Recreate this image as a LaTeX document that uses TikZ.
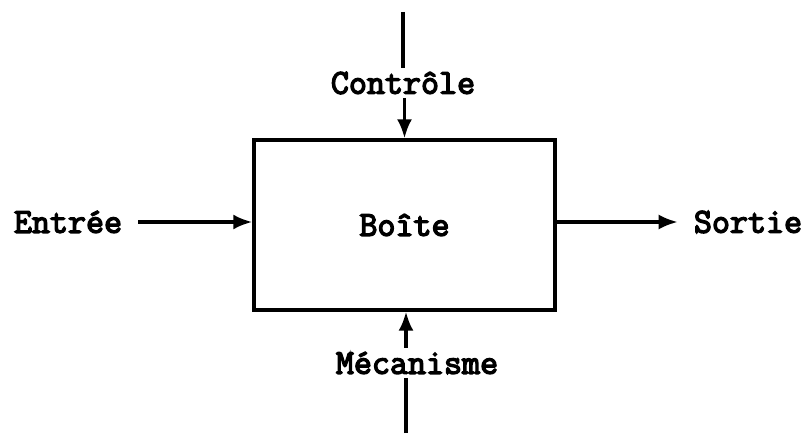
\documentclass[tikz,border=0pt]{standalone}
\usepackage{fontspec}
\newfontfamily\boxfont[FakeBold=4]{Latin Modern Mono}
\usetikzlibrary{arrows.meta}
\begin{document}
\begin{tikzpicture}[x=1pt,y=1pt,
  lbl/.style={font=\fontsize{35}{35}\selectfont\boxfont, inner sep=0pt},
  flow/.style={line width=3.2pt, -{Latex[length=19pt,width=15pt]}},
  plain/.style={line width=3.2pt}]
  \useasboundingbox (0,0) rectangle (811,437);
  % activity box
  \node[draw, line width=3.4pt, minimum width=301pt, minimum height=170pt,
        inner sep=0pt, lbl] (box) at (404.5,212) {Boîte};
  % labels
  \node[lbl, inner ysep=4pt] (ctl) at (403,354) {Contrôle};
  \node[lbl, inner ysep=4pt] (mec) at (417,74) {Mécanisme};
  \node[lbl, inner xsep=16pt] (in) at (68,215) {Entrée};
  \node[lbl, inner xsep=16pt] (out) at (748,215) {Sortie};
  % free ends of the vertical lines
  \coordinate (ctop) at (403,425);
  \coordinate (mbot) at (406,4);
  % connectors
  \draw[plain] (ctop) -- (ctop |- ctl.north);
  \draw[flow] (ctl.south -| box.north) -- (box.north);
  \draw[plain] (mbot) -- (mbot |- mec.south);
  \draw[flow] (mec.north -| mbot) -- (mbot |- box.south);
  \draw[flow] (in.east) -- (in.east -| box.west);
  \draw[flow] (box.east |- out.west) -- (out.west);
\end{tikzpicture}
\end{document}
